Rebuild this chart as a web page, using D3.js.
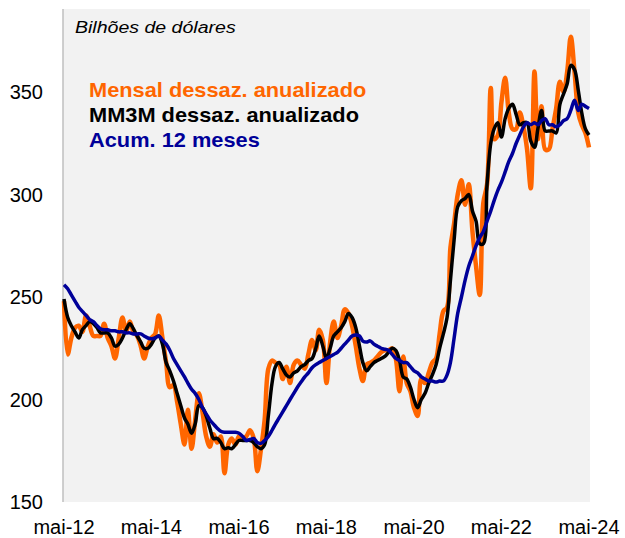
<!DOCTYPE html>
<html lang="pt">
<head>
<meta charset="UTF-8">
<title>Bilhões de dólares</title>
<script src="https://cdnjs.cloudflare.com/ajax/libs/d3/7.8.5/d3.min.js"></script>
<style>
  body { margin: 0; background: #fff; }
  text { font-family: "Liberation Sans", Arial, sans-serif; }
</style>
</head>
<body>
<svg id="chart" width="625" height="538"></svg>
<script>
  // monthly, mai-12 .. mai-24
  var startMonth = new Date(2012, 4, 1);

  var mensal = [
    248, 222, 230, 235, 236, 233, 241, 236, 231, 231, 231, 237, 230, 226, 220, 230,
    240, 233, 238, 233, 231, 226, 220, 226, 230, 232, 241, 230, 218, 206, 207, 199,
    188, 178, 195, 176, 190, 203, 194, 182, 177, 183, 179, 182, 164, 178, 181, 178,
    182, 181, 182, 185, 181, 165, 176, 190, 215, 219, 218, 217, 210, 216, 208, 217,
    219, 217, 215, 222, 229, 224, 234, 229, 208, 228, 238, 230, 236, 244, 242, 236,
    226, 215, 209, 217, 218, 219, 221, 223, 224, 224, 225, 220, 204, 221, 208, 204,
    196, 192, 210, 208, 213, 218, 220, 232, 243, 245, 274, 286, 300, 307, 295, 305,
    282, 265, 251, 296, 305, 352, 327, 329, 345, 357, 340, 332, 332, 340, 333, 322,
    303, 360, 327, 343, 322, 322, 332, 342, 355, 350, 360, 377, 360, 340, 334, 330,
    323
  ];

  var mm3m = [
    249, 240, 236, 233, 230, 234, 236, 238, 237, 235, 232.5, 232.5, 232.5, 230, 226, 227,
    230, 234, 237, 234.5, 231, 228, 225, 225, 227, 230, 231, 227, 218, 214, 209, 203,
    197, 191, 188, 183.5, 188, 197, 196, 192, 186, 181, 181, 179, 176, 176.5, 176, 178,
    180, 180, 180, 180, 179, 177, 176, 178, 192, 208, 216, 218, 215, 212, 211, 213,
    214, 216, 217, 219, 220, 225, 231, 226, 220, 225, 231, 233, 235, 238, 242, 240,
    235, 226, 218, 214, 216, 218, 219, 220, 221, 223, 225, 224, 219, 211, 210, 206,
    200, 196, 200, 203, 208, 212, 217, 225, 232, 240, 258, 278, 294, 297, 298, 300,
    292, 287, 276, 276, 305, 325, 332, 335, 328, 337, 342, 344, 339, 334, 335, 335,
    326, 323, 332, 341, 331, 331, 331, 330, 344, 349, 354, 363, 361, 351, 340, 332,
    329
  ];

  var acum12 = [
    256, 254, 251, 248, 245, 243, 241, 239, 238, 236, 234.5, 234, 234, 233.5, 233.5, 233,
    233, 232.5, 232.5, 232, 232, 232, 231, 230, 229.6, 230, 231, 229, 227, 224, 220, 217,
    214, 211, 208, 205, 203, 200, 196, 193, 190, 188, 186, 184.5, 184, 184, 184, 184,
    183.5, 182, 180, 180.5, 181, 179, 178.6, 180, 182, 185, 188, 191, 194, 197, 200, 203,
    206, 208.5, 211, 213, 215.5, 217, 218, 219, 220, 221, 222, 223, 225, 227, 229, 231,
    231.5, 231, 228.5, 228, 228.6, 227, 226, 225, 224.5, 224, 222, 220, 219, 218, 218, 216,
    214, 213, 211, 210, 209, 209, 208.5, 209, 209, 212, 218, 230, 242, 250, 258, 265,
    270, 275, 279, 282, 287, 292, 297, 302, 306, 311, 316, 320, 325, 329, 333, 335,
    334, 335, 334, 336, 337, 334, 334, 333, 334, 336, 337, 341, 346, 341, 344, 343,
    342
  ];

  var yTicks = [150, 200, 250, 300, 350];
  var xTickLabels = ["mai-12", "mai-14", "mai-16", "mai-18", "mai-20", "mai-22", "mai-24"];

  var seriesNames = ["Mensal dessaz. anualizado", "MM3M dessaz. anualizado", "Acum. 12 meses"];
  var seriesColors = ["#ff6600", "#000000", "#000099"];
  var seriesWidths = [4.5, 3.5, 3.5];

  var months = mensal.map(function (d, i) { return d3.timeMonth.offset(startMonth, i); });

  var svg = d3.select("#chart"),
    plotLeft = 63, plotRight = 590, plotTop = 9, plotBottom = 502;

  var x = d3.scaleTime()
    .domain([months[0], months[months.length - 1]])
    .range([plotLeft + 1, plotRight - 1]);

  var y = d3.scaleLinear()
    .domain([150, 390])
    .range([plotBottom, plotTop + 1]);

  // plot area
  svg.append("rect")
    .attr("x", plotLeft).attr("y", plotTop)
    .attr("width", plotRight - plotLeft).attr("height", plotBottom - plotTop)
    .attr("fill", "#f2f2f2");

  svg.append("line")
    .attr("x1", plotLeft).attr("x2", plotLeft)
    .attr("y1", plotTop).attr("y2", plotBottom)
    .attr("stroke", "#bfbfbf").attr("stroke-width", 1.5);

  // y labels
  svg.selectAll(".ylab")
    .data(yTicks)
    .enter().append("text")
    .attr("class", "ylab")
    .attr("x", 43)
    .attr("y", function (d) { return y(d); })
    .attr("dy", "0.36em")
    .attr("text-anchor", "end")
    .style("font-size", "20px")
    .text(function (d) { return d; });

  // x labels, every 24 months
  svg.selectAll(".xlab")
    .data(xTickLabels)
    .enter().append("text")
    .attr("class", "xlab")
    .attr("x", function (d, i) { return x(months[i * 24]); })
    .attr("y", 534)
    .attr("text-anchor", "middle")
    .style("font-size", "20px")
    .text(function (d) { return d; });

  var line = d3.line()
    .x(function (d, i) { return x(months[i]); })
    .y(function (d) { return y(d); })
    .curve(d3.curveCatmullRom);

  [mensal, mm3m, acum12].forEach(function (s, k) {
    svg.append("path")
      .datum(s)
      .attr("fill", "none")
      .attr("stroke", seriesColors[k])
      .attr("stroke-width", seriesWidths[k])
      .attr("stroke-linejoin", "round")
      .attr("d", line);
  });

  svg.append("text")
    .attr("transform", "translate(75,33) scale(1.15,1)")
    .style("font-size", "17px")
    .style("font-style", "italic")
    .text("Bilhões de dólares");

  svg.selectAll(".leg")
    .data(seriesNames)
    .enter().append("text")
    .attr("class", "leg")
    .attr("transform", function (d, i) { return "translate(89," + (97 + i * 25) + ") scale(1.09,1)"; })
    .attr("fill", function (d, i) { return seriesColors[i]; })
    .style("font-size", "20px")
    .style("font-weight", "bold")
    .text(function (d) { return d; });
</script>
</body>
</html>
